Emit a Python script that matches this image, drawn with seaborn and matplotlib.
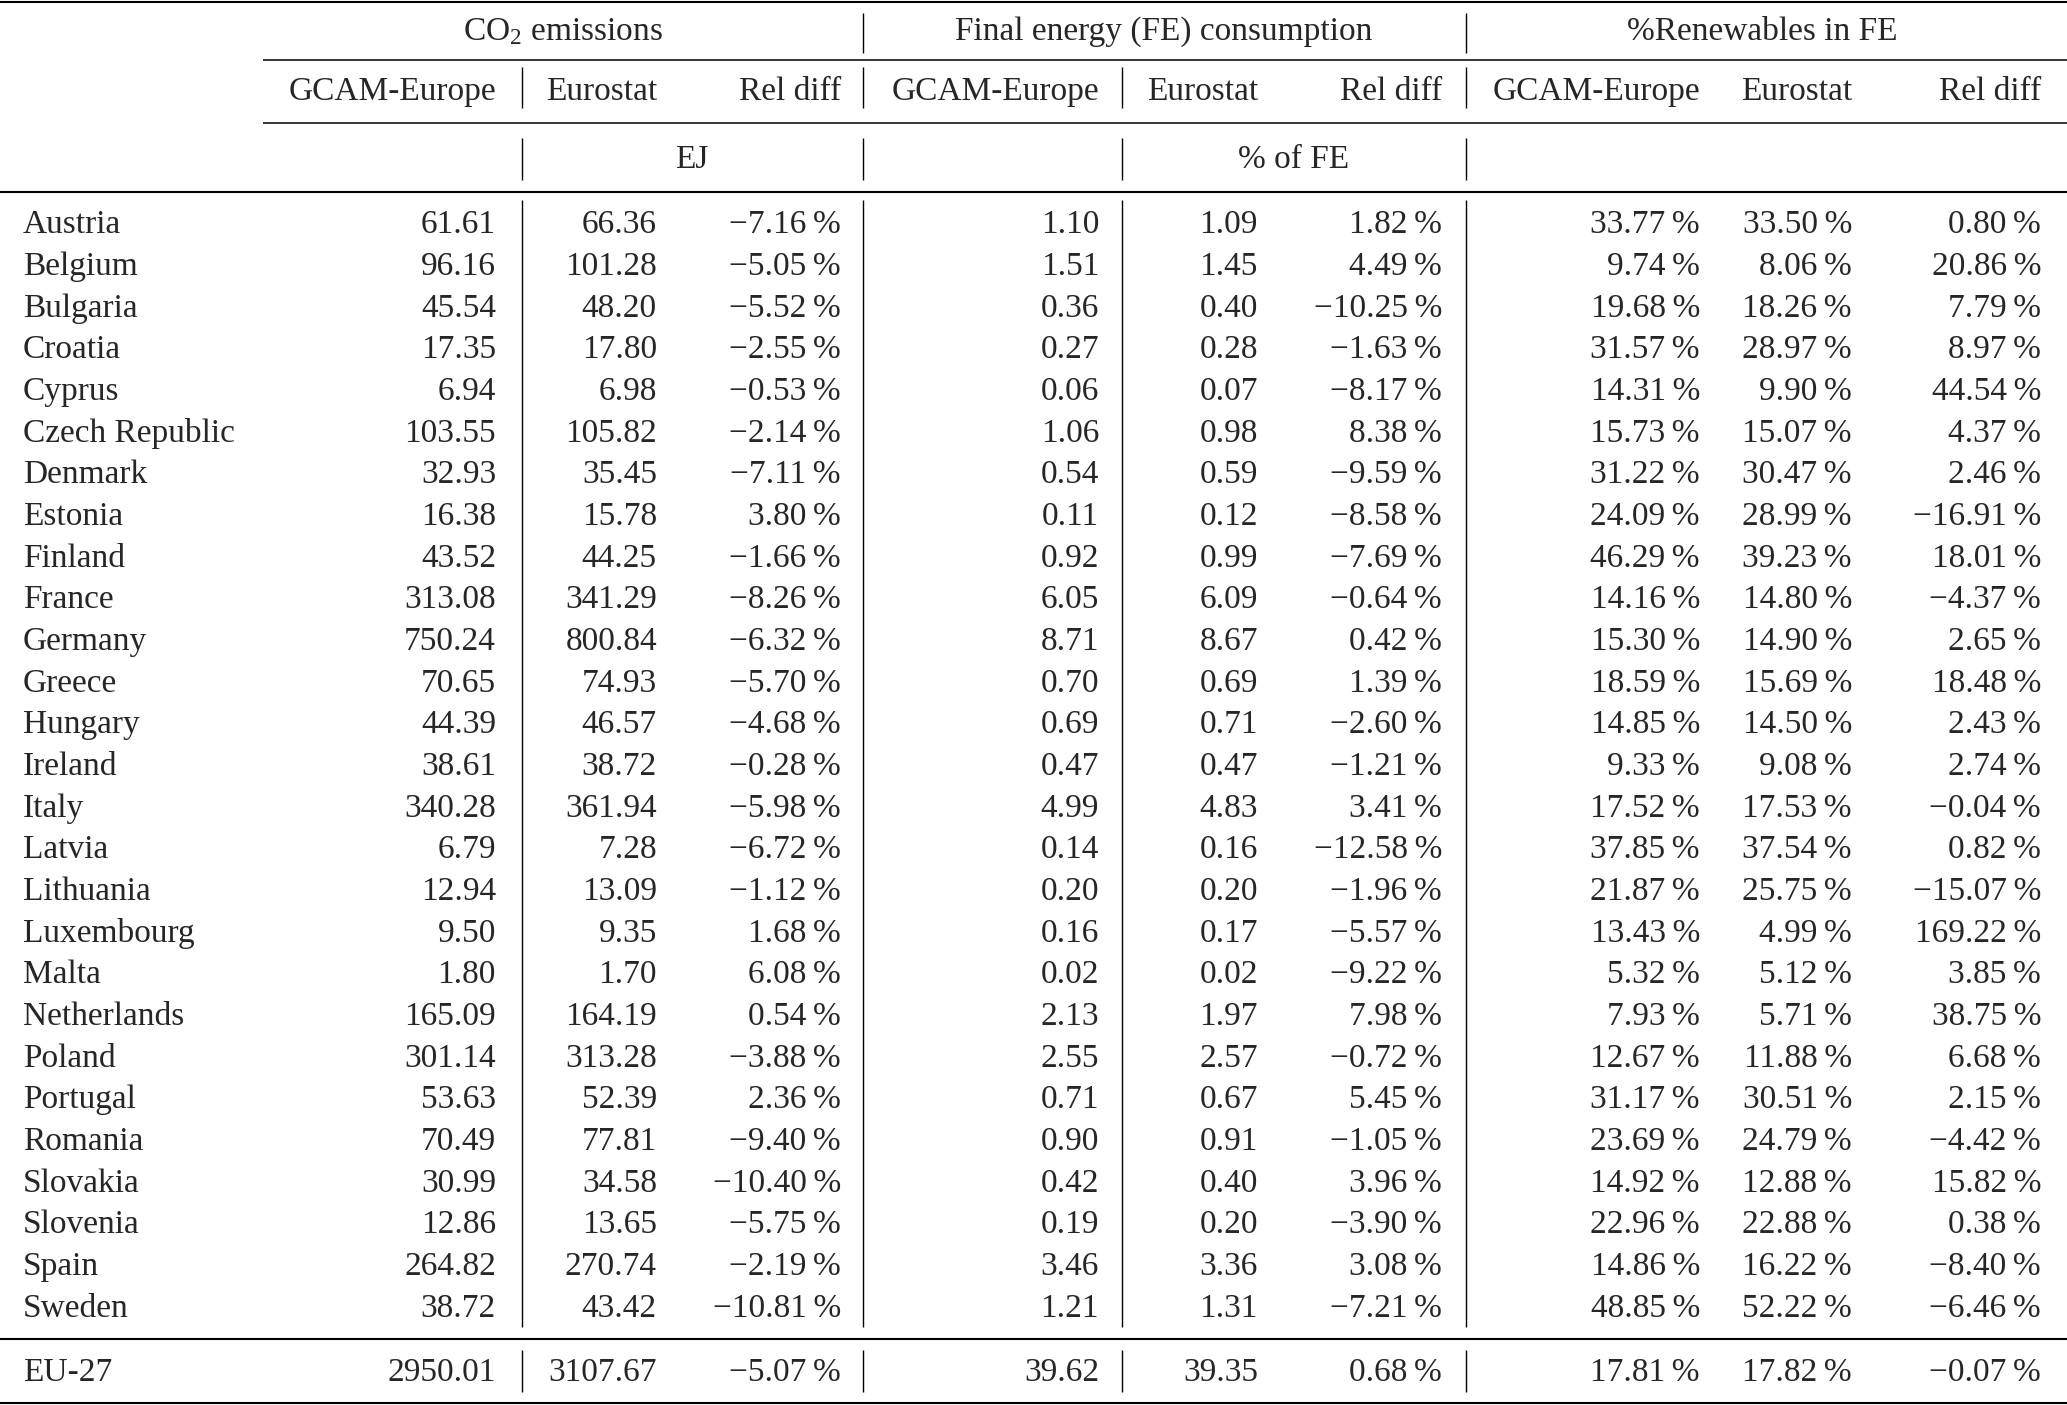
import numpy as np
import pandas as pd
import matplotlib
matplotlib.use("Agg")
import matplotlib.pyplot as plt
import seaborn as sns

sns.set_theme(style="white")
plt.rcParams["font.family"] = ["Liberation Serif", "DejaVu Serif"]
plt.rcParams["mathtext.fontset"] = "custom"
plt.rcParams["mathtext.rm"] = "Liberation Serif"
plt.rcParams["mathtext.it"] = "Liberation Serif:italic"

# --- data ---
countries = ["Austria", "Belgium", "Bulgaria", "Croatia", "Cyprus",
             "Czech Republic", "Denmark", "Estonia", "Finland", "France",
             "Germany", "Greece", "Hungary", "Ireland", "Italy", "Latvia",
             "Lithuania", "Luxembourg", "Malta", "Netherlands", "Poland",
             "Portugal", "Romania", "Slovakia", "Slovenia", "Spain", "Sweden"]
total_label = "EU-27"

co2_gcam = [61.61, 96.16, 45.54, 17.35, 6.94, 103.55, 32.93, 16.38, 43.52,
            313.08, 750.24, 70.65, 44.39, 38.61, 340.28, 6.79, 12.94, 9.50,
            1.80, 165.09, 301.14, 53.63, 70.49, 30.99, 12.86, 264.82, 38.72]
co2_euro = [66.36, 101.28, 48.20, 17.80, 6.98, 105.82, 35.45, 15.78, 44.25,
            341.29, 800.84, 74.93, 46.57, 38.72, 361.94, 7.28, 13.09, 9.35,
            1.70, 164.19, 313.28, 52.39, 77.81, 34.58, 13.65, 270.74, 43.42]
co2_rel = [-7.16, -5.05, -5.52, -2.55, -0.53, -2.14, -7.11, 3.80, -1.66,
           -8.26, -6.32, -5.70, -4.68, -0.28, -5.98, -6.72, -1.12, 1.68,
           6.08, 0.54, -3.88, 2.36, -9.40, -10.40, -5.75, -2.19, -10.81]
fe_gcam = [1.10, 1.51, 0.36, 0.27, 0.06, 1.06, 0.54, 0.11, 0.92, 6.05, 8.71,
           0.70, 0.69, 0.47, 4.99, 0.14, 0.20, 0.16, 0.02, 2.13, 2.55, 0.71,
           0.90, 0.42, 0.19, 3.46, 1.21]
fe_euro = [1.09, 1.45, 0.40, 0.28, 0.07, 0.98, 0.59, 0.12, 0.99, 6.09, 8.67,
           0.69, 0.71, 0.47, 4.83, 0.16, 0.20, 0.17, 0.02, 1.97, 2.57, 0.67,
           0.91, 0.40, 0.20, 3.36, 1.31]
fe_rel = [1.82, 4.49, -10.25, -1.63, -8.17, 8.38, -9.59, -8.58, -7.69, -0.64,
          0.42, 1.39, -2.60, -1.21, 3.41, -12.58, -1.96, -5.57, -9.22, 7.98,
          -0.72, 5.45, -1.05, 3.96, -3.90, 3.08, -7.21]
ren_gcam = [33.77, 9.74, 19.68, 31.57, 14.31, 15.73, 31.22, 24.09, 46.29,
            14.16, 15.30, 18.59, 14.85, 9.33, 17.52, 37.85, 21.87, 13.43,
            5.32, 7.93, 12.67, 31.17, 23.69, 14.92, 22.96, 14.86, 48.85]
ren_euro = [33.50, 8.06, 18.26, 28.97, 9.90, 15.07, 30.47, 28.99, 39.23,
            14.80, 14.90, 15.69, 14.50, 9.08, 17.53, 37.54, 25.75, 4.99,
            5.12, 5.71, 11.88, 30.51, 24.79, 12.88, 22.88, 16.22, 52.22]
ren_rel = [0.80, 20.86, 7.79, 8.97, 44.54, 4.37, 2.46, -16.91, 18.01, -4.37,
           2.65, 18.48, 2.43, 2.74, -0.04, 0.82, -15.07, 169.22, 3.85, 38.75,
           6.68, 2.15, -4.42, 15.82, 0.38, -8.40, -6.46]
total_row = [2950.01, 3107.67, -5.07, 39.62, 39.35, 0.68, 17.81, 17.82, -0.07]

group_labels = [r"CO$_{\mathregular{2}}$ emissions",
                "Final energy (FE) consumption", "%Renewables in FE"]
sub_labels = ["GCAM-Europe", "Eurostat", "Rel diff"]
unit_labels = ["EJ", "% of FE"]

cols = ["co2_gcam", "co2_euro", "co2_rel", "fe_gcam", "fe_euro", "fe_rel",
        "ren_gcam", "ren_euro", "ren_rel"]
df = pd.DataFrame(dict(zip(cols, [co2_gcam, co2_euro, co2_rel, fe_gcam,
                                  fe_euro, fe_rel, ren_gcam, ren_euro,
                                  ren_rel])), index=countries)
df.loc[total_label] = total_row

# --- layout (pixels) ---
W, H = 2067, 1405
fs = 24
col_right = [496, 657, 841, 1099, 1258, 1442, 1700, 1852, 2041]
pct_cols = ["co2_rel", "fe_rel", "ren_gcam", "ren_euro", "ren_rel"]
vsep = [522, 863, 1122, 1466]
y0, dy = 233.4, 41.67
thick, thin, vlw = 1.5, 1.1, 1.0


def fmt(v, pct):
    s = "{:.2f}".format(abs(v))
    if v < 0:
        s = "\u2212" + s
    if pct:
        s += "\u2009%"
    return s


fig = plt.figure(figsize=(W / 100, H / 100), dpi=100)
ax = fig.add_axes([0, 0, 1, 1])
ax.set_xlim(0, W)
ax.set_ylim(H, 0)
ax.axis("off")

# rules
ax.hlines([1.5, 192, 1339, 1403], 0, W, color="black", lw=thick)
ax.hlines([60, 123], 263, W, color="black", lw=thin)
ax.vlines([863, 1466], 13, 53, color="black", lw=vlw)
ax.vlines([522, 863, 1122, 1466], 67, 108, color="black", lw=vlw)
ax.vlines(vsep, 138, 180, color="black", lw=vlw)
ax.vlines(vsep, 200, 1327, color="black", lw=vlw)
ax.vlines(vsep, 1350, 1392, color="black", lw=vlw)

# header rows
for lab, xc in zip(group_labels, [563, 1164, 1762]):
    ax.text(xc, 40, lab, ha="center", va="baseline", fontsize=fs)
for i, xr in enumerate(col_right):
    ax.text(xr, 100, sub_labels[i % 3], ha="right", va="baseline",
            fontsize=fs)
for lab, xc in zip(unit_labels, [692, 1294]):
    ax.text(xc, 168, lab, ha="center", va="baseline", fontsize=fs)

# body
for i, name in enumerate(df.index):
    yb = y0 + dy * i if name != total_label else 1381
    ax.text(23, yb, name, ha="left", va="baseline", fontsize=fs)
    for c, xr in zip(cols, col_right):
        ax.text(xr, yb, fmt(df.loc[name, c], c in pct_cols), ha="right",
                va="baseline", fontsize=fs)

fig.savefig("out.png", dpi=100)
